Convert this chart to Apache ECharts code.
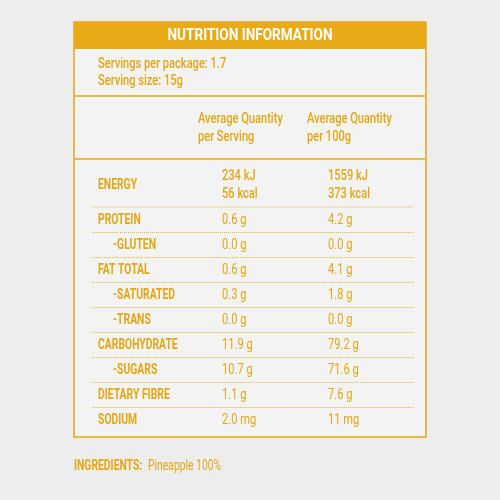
<!DOCTYPE html>
<html><head><meta charset="utf-8">
<script src="https://cdn.jsdelivr.net/npm/echarts@6/dist/echarts.min.js"></script>
<style>html,body{margin:0;padding:0;background:#ededed}#c{width:500px;height:500px}</style>
</head><body><div id="c"></div>
<script>
var title = 'NUTRITION INFORMATION';
var servingInfo = ['Servings per package: 1.7', 'Serving size: 15g'];
var columnHeads = ['Average Quantity\nper Serving', 'Average Quantity\nper 100g'];
var nutrients = ['PROTEIN', '-GLUTEN', 'FAT TOTAL', '-SATURATED', '-TRANS', 'CARBOHYDRATE', '-SUGARS', 'DIETARY FIBRE', 'SODIUM'];
var perServing = ['0.6 g', '0.0 g', '0.6 g', '0.3 g', '0.0 g', '11.9 g', '10.7 g', '1.1 g', '2.0 mg'];
var per100g = ['4.2 g', '0.0 g', '4.1 g', '1.8 g', '0.0 g', '79.2 g', '71.6 g', '7.6 g', '11 mg'];
var energyServing = '234 kJ\n56 kcal';
var energy100g = '1559 kJ\n373 kcal';
var ingredients = 'Pineapple 100%';

var C = '#e3a614', F = 'Roboto,"DejaVu Sans",sans-serif';
var g = [];
function txt(x, y, t, o) {
  o = o || {};
  g.push({type:'text', x:x, y:y, scaleX:o.sx||0.74, originX:0, originY:0,
    style:{text:t, fill:o.fill||C, font:(o.w||'bold')+' '+(o.s||14)+'px '+F, textVerticalAlign:o.va||'middle', textAlign:o.a||'left', lineHeight:o.lh||16}});
}
function line(y, dash) {
  g.push({type:'line', shape:{x1:dash?92:75, y1:y, x2:dash?414:425, y2:y}, style:{stroke:C, lineWidth:dash?1:1.5, lineDash:dash?[1,1]:null, opacity:dash?0.8:1}});
}
g.push({type:'rect', shape:{x:74, y:22, width:352, height:415}, style:{fill:'#f3f3f3', stroke:C, lineWidth:1.5}});
g.push({type:'rect', shape:{x:74, y:22, width:352, height:27}, style:{fill:'#e8ab17'}});
txt(250, 36, title, {fill:'#fff', a:'center', s:17, sx:0.8});
txt(98, 64, servingInfo[0], {s:15, w:'500'});
txt(98, 81, servingInfo[1], {s:15, w:'500'});
line(96); line(159);
txt(198, 128, columnHeads[0], {w:'500', s:15, lh:18});
txt(307, 128, columnHeads[1], {w:'500', s:15, lh:18});
txt(98, 185, 'ENERGY', {s:14});
txt(222, 185, energyServing, {w:'500', s:15, lh:18});
txt(328, 185, energy100g, {w:'500', s:15, lh:18});
line(207, true);
nutrients.forEach(function (n, i) {
  var y = 220 + i * 25;
  var sub = n.charAt(0) === '-';
  txt(sub ? 113 : 98, y, n, {s:14});
  txt(222, y, perServing[i], {w:'normal', s:15});
  txt(328, y, per100g[i], {w:'normal', s:15});
  if (i < nutrients.length - 1) line(y + 12.5, true);
});
txt(74, 466, 'INGREDIENTS:', {s:14});
txt(148, 466, ingredients, {w:'normal', s:14});
var chart = echarts.init(document.getElementById('c'));
chart.setOption({backgroundColor:'#ededed', graphic:g});
</script></body></html>
